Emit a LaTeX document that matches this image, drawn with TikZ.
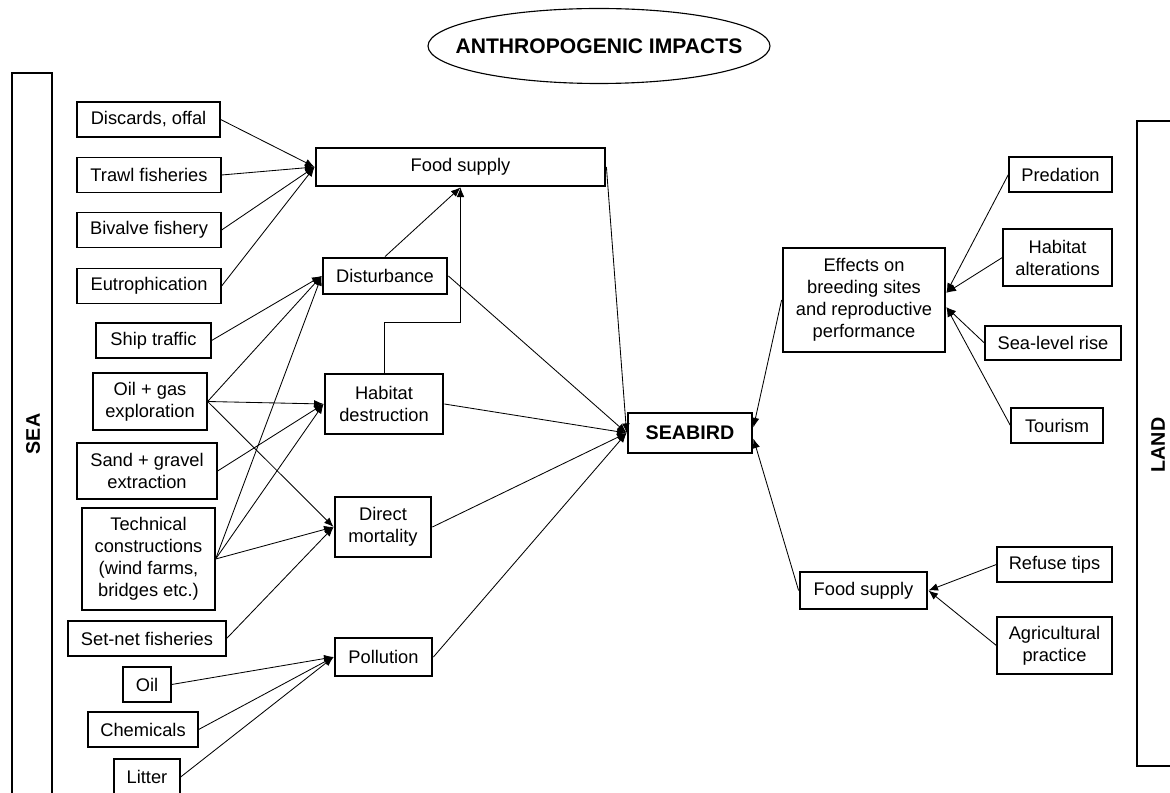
\documentclass[tikz,border=0pt]{standalone}
\usepackage{fontspec}
\setmainfont{Liberation Sans}
\usetikzlibrary{arrows.meta,shapes.geometric}
\tikzset{
  box/.style={
    draw,
    line width=2pt,
    align=center,
    inner sep=2pt
  },
  srcbox/.style={
    draw,
    line width=0.9pt,
    align=center,
    inner sep=2pt
  },
  wh/.style 2 args={minimum width=#1*0.025cm, minimum height=#2*0.025cm},
  bar/.style={draw, line width=2pt},
  heading/.style={font=\fontsize{14}{16}\selectfont\bfseries},
  arrow/.style={-{Latex[length=2.4mm,width=1.9mm]}, line width=0.6pt}
}

\begin{document}
\begin{tikzpicture}[x=0.025cm, y=-0.025cm, font=\fontsize{13}{15.6}\selectfont]
  \useasboundingbox (0,0) rectangle (1170,793);
  \clip (0,0) rectangle (1170,793);

  \draw[bar] (12,73) rectangle (52,810);
  \node[heading, rotate=90] (sea) at (33,434) {SEA};
  \draw[bar] (1137,121) rectangle (1190,766);
  \node[heading, rotate=90] (land) at (1158,445) {LAND};
  \node[ellipse, draw, line width=0.8pt, wh={342}{75},
        label={[font=\fontsize{15}{18}\selectfont\bfseries]center:ANTHROPOGENIC IMPACTS}] (impacts) at (599,46) {};

  \node[srcbox, wh={143}{35}] (discards) at (148.5,119.5) {Discards, offal};
  \node[srcbox, wh={144}{35}] (trawl) at (149,175) {Trawl fisheries};
  \node[srcbox, wh={144}{35}] (bivalve) at (149,230) {Bivalve fishery};
  \node[srcbox, wh={144}{35}] (eutro) at (149,286) {Eutrophication};
  \node[srcbox, wh={115}{35}] (ship) at (153.5,340.5) {Ship traffic};
  \node[srcbox, wh={114}{57}] (oilgas) at (150,401.5) {Oil + gas\\exploration};
  \node[srcbox, wh={140}{56}] (sand) at (147,471) {Sand + gravel\\extraction};
  \node[srcbox, wh={133}{102}] (techn) at (148.5,559) {Technical\\constructions\\(wind farms,\\bridges etc.)};
  \node[srcbox, wh={158}{35}] (setnet) at (147,638.5) {Set-net fisheries};
  \node[srcbox, wh={48}{35}] (oil) at (147,684.5) {Oil};
  \node[srcbox, wh={110}{35}] (chem) at (143,729.5) {Chemicals};
  \node[srcbox, wh={66}{36}] (litter) at (147,777) {Litter};

  \node[box, wh={289}{38}] (foodsea) at (460.5,167) {Food supply};
  \node[box, wh={124}{36}] (disturb) at (385,276) {Disturbance};
  \node[box, wh={118}{60}] (habdes) at (384,404) {Habitat\\destruction};
  \node[box, wh={96}{60}] (mortal) at (383,527) {Direct\\mortality};
  \node[box, wh={97}{38}] (pollut) at (383.5,657) {Pollution};
  \node[box, heading, wh={124}{40}] (seabird) at (690,433) {SEABIRD};
  \node[box, wh={162}{104}] (breeding) at (864,300) {Effects on\\breeding sites\\and reproductive\\performance};
  \node[box, wh={127}{37}] (foodland) at (863.5,590.5) {Food supply};

  \node[srcbox, wh={103}{35}] (predat) at (1060.5,174.5) {Predation};
  \node[srcbox, wh={109}{57}] (habalt) at (1057.5,257.5) {Habitat\\alterations};
  \node[srcbox, wh={136}{34}] (sealevel) at (1053,343) {Sea-level rise};
  \node[srcbox, wh={92}{35}] (tourism) at (1057,425.5) {Tourism};
  \node[srcbox, wh={115}{35}] (refuse) at (1054.5,564.5) {Refuse tips};
  \node[srcbox, wh={115}{57}] (agri) at (1054.5,645.5) {Agricultural\\practice};
  \coordinate (bend) at (460.5,322);

  \draw[arrow] (discards.east) -- (foodsea.west);
  \draw[arrow] (trawl.east) -- (foodsea.west);
  \draw[arrow] (bivalve.east) -- (foodsea.west);
  \draw[arrow] (eutro.east) -- (foodsea.west);
  \draw[arrow] (ship.east) -- (disturb.west);
  \draw[arrow] (oilgas.east) -- (disturb.west);
  \draw[arrow] (techn.east) -- (disturb.west);
  \draw[arrow] (oilgas.east) -- (habdes.west);
  \draw[arrow] (sand.east) -- (habdes.west);
  \draw[arrow] (techn.east) -- (habdes.west);
  \draw[arrow] (oilgas.east) -- (mortal.west);
  \draw[arrow] (techn.east) -- (mortal.west);
  \draw[arrow] (setnet.east) -- (mortal.west);
  \draw[arrow] (oil.east) -- (pollut.west);
  \draw[arrow] (chem.east) -- (pollut.west);
  \draw[arrow] (litter.east) -- (pollut.west);

  \draw[arrow] (disturb.north) -- (foodsea.south);
  \draw[arrow] (habdes.north) |- (bend) -- (foodsea.south);
  \draw[arrow] (foodsea.east) -- (seabird.west);
  \draw[arrow] (disturb.east) -- (seabird.west);
  \draw[arrow] (habdes.east) -- (seabird.west);
  \draw[arrow] (mortal.east) -- (seabird.west);
  \draw[arrow] (pollut.east) -- (seabird.west);

  \draw[arrow] (breeding.west) -- (seabird.5);
  \draw[arrow] (foodland.west) -- (seabird.-5);
  \draw[arrow] (predat.west) -- (breeding.5);
  \draw[arrow] (habalt.west) -- (breeding.5);
  \draw[arrow] (sealevel.west) -- (breeding.-5);
  \draw[arrow] (tourism.west) -- (breeding.-5);
  \draw[arrow] (refuse.west) -- (foodland.east);
  \draw[arrow] (agri.west) -- (foodland.east);
\end{tikzpicture}
\end{document}
